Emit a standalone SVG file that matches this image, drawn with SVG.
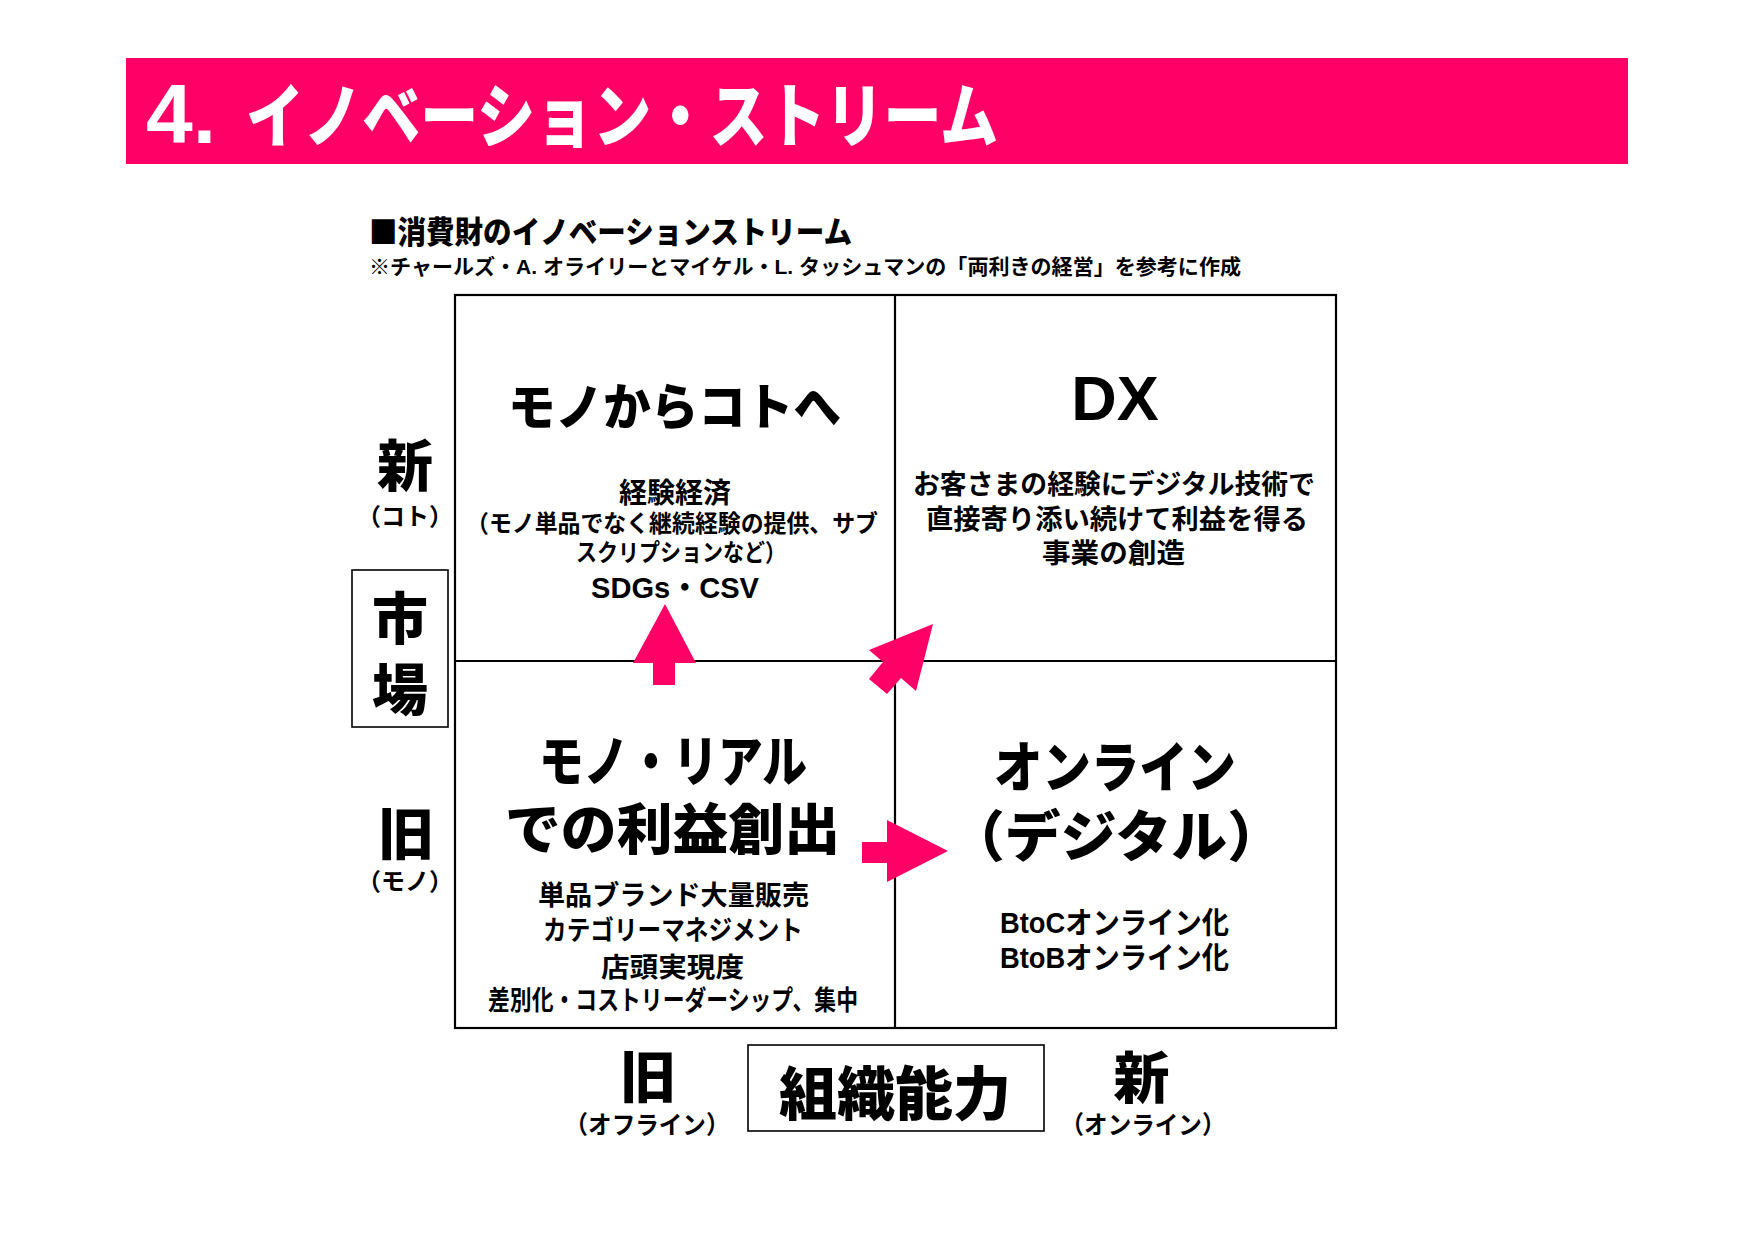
<svg xmlns="http://www.w3.org/2000/svg" width="1755" height="1241" viewBox="0 0 1755 1241">
<style>
text{font-family:"Liberation Sans","Noto Sans CJK JP",sans-serif;font-weight:700;fill:#000}
.w{fill:#fff}
.h{font-weight:900}
.m{text-anchor:middle}
.cjk{font-family:"Noto Sans CJK JP",sans-serif}
.ln{stroke:#000;stroke-width:2.2;fill:none}
.bx{stroke:#000;stroke-width:1.6;fill:none}
.arr{fill:#FF0066}
</style>
<rect width="1755" height="1241" fill="#fff"/>
<g id="banner">
<rect x="126" y="58" width="1502" height="106" fill="#FF0066"/>
<text class="w h" x="146" y="143" font-size="84">4.</text>
<text class="w h" x="246" y="142" font-size="70" textLength="752" lengthAdjust="spacingAndGlyphs">イノベーション・ストリーム</text>
</g>
<g id="subtitle">
<text class="h cjk" x="369" y="243" font-size="31" textLength="483" lengthAdjust="spacingAndGlyphs">■消費財のイノベーションストリーム</text>
<text x="369" y="273.5" font-size="21" textLength="872" lengthAdjust="spacingAndGlyphs">※チャールズ・A. オライリーとマイケル・L. タッシュマンの「両利きの経営」を参考に作成</text>
</g>
<g id="grid">
<rect class="ln" x="455" y="295" width="881" height="733"/>
<line class="ln" x1="895" y1="295" x2="895" y2="1028"/>
<line class="ln" x1="455" y1="661" x2="1336" y2="661"/>
</g>
<g id="q-top-left">
<text class="h" x="508" y="425" font-size="50" textLength="333" lengthAdjust="spacingAndGlyphs">モノからコトへ</text>
<text class="m" x="675" y="503" font-size="28">経験経済</text>
<text x="466" y="531.5" font-size="24" textLength="412" lengthAdjust="spacingAndGlyphs">（モノ単品でなく継続経験の提供、サブ</text>
<text x="576" y="561" font-size="24" textLength="210" lengthAdjust="spacingAndGlyphs">スクリプションなど）</text>
<text x="591" y="598" font-size="30" textLength="168" lengthAdjust="spacingAndGlyphs">SDGs・CSV</text>
</g>
<g id="q-top-right">
<text class="m" x="1115" y="420" font-size="63">DX</text>
<text x="913" y="494" font-size="27" textLength="402" lengthAdjust="spacingAndGlyphs">お客さまの経験にデジタル技術で</text>
<text x="926" y="528.5" font-size="27" textLength="382" lengthAdjust="spacingAndGlyphs">直接寄り添い続けて利益を得る</text>
<text x="1042" y="563" font-size="27" textLength="143" lengthAdjust="spacingAndGlyphs">事業の創造</text>
</g>
<g id="q-bottom-left">
<text class="h" x="539" y="781" font-size="55" textLength="268" lengthAdjust="spacingAndGlyphs">モノ・リアル</text>
<text class="h" x="505" y="849" font-size="55" textLength="335" lengthAdjust="spacingAndGlyphs">での利益創出</text>
<text x="538" y="905" font-size="27" textLength="271" lengthAdjust="spacingAndGlyphs">単品ブランド大量販売</text>
<text x="543" y="940" font-size="27" textLength="260" lengthAdjust="spacingAndGlyphs">カテゴリーマネジメント</text>
<text x="601" y="977" font-size="27" textLength="143" lengthAdjust="spacingAndGlyphs">店頭実現度</text>
<text x="488" y="1010" font-size="27" textLength="370" lengthAdjust="spacingAndGlyphs">差別化・コストリーダーシップ、集中</text>
</g>
<g id="q-bottom-right">
<text class="h" x="994" y="787" font-size="55" textLength="242" lengthAdjust="spacingAndGlyphs">オンライン</text>
<text class="h" x="949" y="856" font-size="55" textLength="334" lengthAdjust="spacingAndGlyphs">（デジタル）</text>
<text x="1000" y="933" font-size="30" textLength="229" lengthAdjust="spacingAndGlyphs">BtoCオンライン化</text>
<text x="1000" y="968" font-size="30" textLength="229" lengthAdjust="spacingAndGlyphs">BtoBオンライン化</text>
</g>
<g id="axis-market">
<text class="m h" x="405" y="486" font-size="56">新</text>
<text class="m" x="405" y="525" font-size="24">（コト）</text>
<rect class="bx" x="352" y="570" width="96" height="157"/>
<text class="m h" x="400" y="639" font-size="56">市</text>
<text class="m h" x="400" y="710" font-size="56">場</text>
<text class="m h" x="406" y="854" font-size="56">旧</text>
<text class="m" x="405" y="890" font-size="24">（モノ）</text>
</g>
<g id="axis-org">
<text class="m h" x="648" y="1097" font-size="56">旧</text>
<text class="m" x="647" y="1134" font-size="25" textLength="165" lengthAdjust="spacingAndGlyphs" style="text-anchor:start" dx="-82.5">（オフライン）</text>
<rect class="bx" x="748" y="1045" width="296" height="86"/>
<text class="m h" x="895" y="1115" font-size="58">組織能力</text>
<text class="m h" x="1141.5" y="1098" font-size="56">新</text>
<text class="m" x="1143" y="1134" font-size="25" textLength="165" lengthAdjust="spacingAndGlyphs" style="text-anchor:start" dx="-82.5">（オンライン）</text>
</g>
<g id="connectors">
<polygon class="arr" points="665,604 696,663 675,663 675,685 653,685 653,663 633,663"/>
<polygon class="arr" points="933,624 916,691 901,678 887,694 869,679 883,662 869,650"/>
<polygon class="arr" points="862,842 887,842 887,820 948,851 887,882 887,863 862,863"/>
</g>
</svg>
